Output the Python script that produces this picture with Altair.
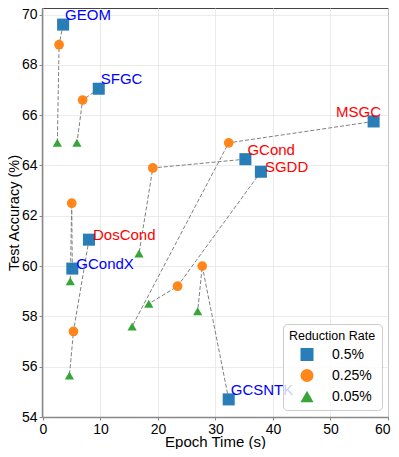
import altair as alt
import pandas as pd

methods = ["GEOM", "SFGC", "MSGC", "GCond", "SGDD", "DosCond", "GCondX", "GCSNTK"]
label_kind = ["A", "A", "B", "B", "B", "B", "A", "A"]
rates = ["0.5%", "0.25%", "0.05%"]

time_05 = [3.5, 9.7, 57.5, 35.2, 37.9, 8.0, 5.1, 32.3]
acc_05 = [69.6, 67.05, 65.75, 64.25, 63.75, 61.05, 59.9, 54.7]
time_025 = [2.8, 6.9, 32.3, 19.1, 23.4, 5.3, 5.0, 27.7]
acc_025 = [68.8, 66.6, 64.9, 63.9, 59.2, 57.4, 62.5, 60.0]
time_005 = [2.5, 5.9, 15.5, 16.7, 18.4, 4.6, 4.75, 26.9]
acc_005 = [64.9, 64.9, 57.6, 60.5, 58.5, 55.65, 59.4, 58.2]

x_ticks = [0, 10, 20, 30, 40, 50, 60]
y_ticks = [54, 56, 58, 60, 62, 64, 66, 68, 70]

rows = []
for i, m in enumerate(methods):
    for k, (r, t, a) in enumerate(zip(rates, [time_05, time_025, time_005], [acc_05, acc_025, acc_005])):
        rows.append({"method": m, "kind": label_kind[i], "rate": r, "order": k,
                     "time": t[i], "acc": a[i]})
df = pd.DataFrame(rows)
labels = df[df["rate"] == "0.5%"]

FONT = "Liberation Sans"

x = alt.X("time:Q", title="Epoch Time (s)",
          scale=alt.Scale(domain=[-0.17, 60], nice=False, zero=False),
          axis=alt.Axis(values=x_ticks, labelFlush=0.5, labelFlushOffset=2,
                        titleY=29, titleBaseline="alphabetic"))
y = alt.Y("acc:Q", title="Test Accuracy (%)",
          scale=alt.Scale(domain=[54, 70.26], nice=False, zero=False),
          axis=alt.Axis(values=y_ticks, titleX=-20.5, titleBaseline="bottom",
                        titleFontSize=14.5))

base = alt.Chart(df)

lines = base.mark_line(color="#808080", strokeDash=[4, 2], strokeWidth=1).encode(
    x=x, y=y, detail="method:N", order="order:Q")

color_enc = alt.Color("rate:N", sort=rates, title="Reduction Rate",
                      scale=alt.Scale(domain=rates, range=["#1f77b4", "#ff7f0e", "#2ca02c"]))
shape_enc = alt.Shape("rate:N", sort=rates, title="Reduction Rate",
                      scale=alt.Scale(domain=rates, range=["square", "circle", "triangle-up"]))

point_sizes = {"0.5%": 145, "0.25%": 95, "0.05%": 85}
point_layers = [
    base.transform_filter(alt.datum.rate == r).mark_point(
        filled=True, opacity=0.95, size=point_sizes[r]).encode(
        x=x, y=y, color=color_enc, shape=shape_enc)
    for r in rates
]

label_color = alt.condition(alt.FieldEqualPredicate(field="kind", equal="A"),
                            alt.value("#0000ff"), alt.value("#ff0000"))

lab_base = alt.Chart(labels)
grpA = ["GEOM", "SFGC", "GCond", "GCSNTK"]
grpB = ["SGDD", "DosCond", "GCondX"]
grpC = ["MSGC"]

textA = lab_base.transform_filter(alt.FieldOneOfPredicate(field="method", oneOf=grpA)).mark_text(
    align="left", baseline="alphabetic", dx=2, dy=-4.5, fontSize=15, font=FONT).encode(
    x=x, y=y, text="method:N", color=label_color)
textB = lab_base.transform_filter(alt.FieldOneOfPredicate(field="method", oneOf=grpB)).mark_text(
    align="left", baseline="alphabetic", dx=4, dy=0, fontSize=15, font=FONT).encode(
    x=x, y=y, text="method:N", color=label_color)
textC = lab_base.transform_filter(alt.FieldOneOfPredicate(field="method", oneOf=grpC)).mark_text(
    align="right", baseline="alphabetic", dx=7.5, dy=-4, fontSize=15, font=FONT).encode(
    x=x, y=y, text="method:N", color=label_color)

chart = alt.layer(lines, *point_layers, textA, textB, textC).properties(
    width=346, height=409,
    autosize=alt.AutoSizeParams(type="none"),
    padding={"left": 34, "top": 0, "right": 3, "bottom": 32},
).configure_view(
    stroke="#444444", strokeWidth=1
).configure_axis(
    labelFont=FONT, titleFont=FONT, labelFontSize=14, titleFontSize=15,
    labelColor="black", titleColor="black", titleFontWeight="normal",
    gridColor="#e6e6e6", gridWidth=0.8,
    domainColor="#888888", domainWidth=1.5,
    tickColor="#888888", tickSize=3, labelPadding=2,
).configure_legend(
    orient="none", legendX=241, legendY=316,
    fillColor="rgba(255,255,255,0.8)", strokeColor="#cccccc", cornerRadius=4,
    padding=6, titleFont=FONT, labelFont=FONT, titleFontSize=12.5, labelFontSize=14,
    titleFontWeight="normal", titleColor="black", labelColor="black",
    symbolSize=170, symbolStrokeWidth=0, symbolOffset=7, labelOffset=18,
    rowPadding=7, titlePadding=5, titleAnchor="middle",
)

chart.save("out.html", embed_options={"renderer": "svg", "actions": False})
